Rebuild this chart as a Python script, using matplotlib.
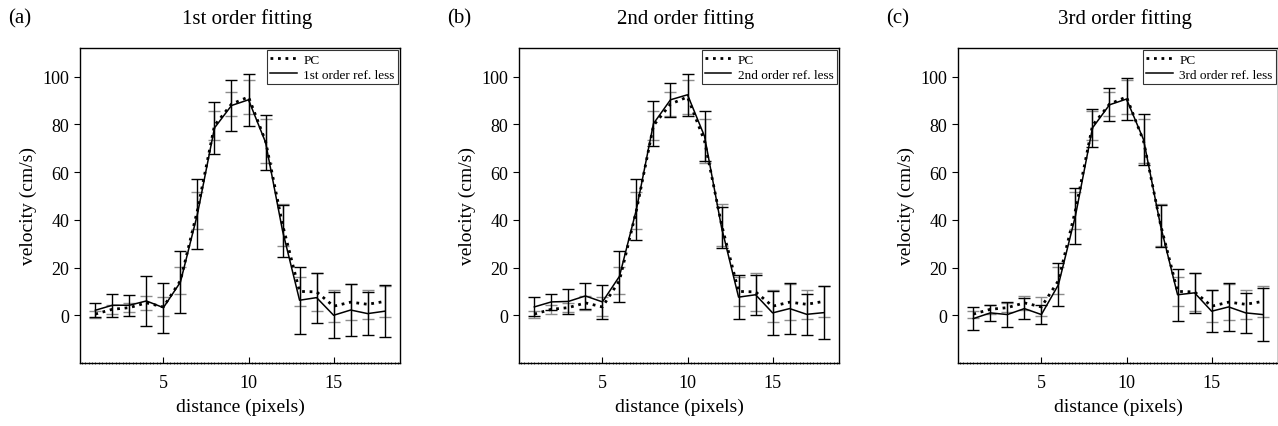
import matplotlib
matplotlib.use("Agg")
import matplotlib.pyplot as plt
import numpy as np

plt.rcParams['font.family'] = ['Liberation Serif', 'DejaVu Serif']

distance = list(range(1, 19))

pc = [0.5, 2.5, 3.2, 5.2, 3.5, 14.5, 44, 79.5, 88.5, 91.5, 73, 38, 10, 9.8, 3.8, 5.5, 4.6, 5.8]
pc_err = [1.5, 2.0, 2.0, 2.9, 4.0, 5.7, 7.8, 6.0, 5.1, 7.2, 9.1, 8.8, 6.0, 8.0, 6.8, 7.5, 6.0, 6.4]

ref1 = [2.1, 4.2, 4.2, 6.0, 3.2, 13.9, 42.4, 78.5, 87.9, 90.3, 72.5, 35.4, 6.3, 7.4, 0.0, 2.2, 0.7, 1.7]
ref1_err = [3.0, 4.8, 4.5, 10.5, 10.5, 13.0, 14.6, 11.0, 10.5, 11.0, 11.5, 11.0, 14.0, 10.5, 9.7, 11.0, 9.0, 11.0]

ref2 = [3.5, 5.6, 5.8, 8.1, 5.6, 16.3, 44.4, 80.3, 90.3, 92.4, 75.0, 36.8, 7.6, 8.6, 1.0, 2.8, 0.4, 1.1]
ref2_err = [4.0, 3.3, 5.2, 5.5, 7.0, 10.8, 12.8, 9.3, 7.2, 8.9, 10.5, 8.7, 9.2, 8.4, 9.2, 10.6, 8.7, 11.0]

ref3 = [-1.4, 1.0, 0.3, 2.8, 0.3, 12.8, 41.7, 78.5, 88.2, 90.6, 73.6, 37.5, 8.6, 9.4, 1.7, 3.5, 1.0, 0.3]
ref3_err = [4.7, 3.3, 5.1, 4.5, 4.0, 9.1, 11.8, 7.8, 6.9, 8.9, 10.7, 8.9, 11.0, 8.3, 8.7, 10.0, 8.3, 11.0]

panel_tags = ['(a)', '(b)', '(c)']
titles = ['1st order fitting', '2nd order fitting', '3rd order fitting']
legend_labels = ['1st order ref. less', '2nd order ref. less', '3rd order ref. less']
refs = [ref1, ref2, ref3]
ref_errs = [ref1_err, ref2_err, ref3_err]

W, H = 1278, 427
fig = plt.figure(figsize=(W / 100, H / 100), dpi=100)

lefts = [80, 519, 958]
ax_w = 320
ax_top = 49
ax_bot = 364

for i in range(3):
    ax = fig.add_axes([lefts[i] / W, 1 - ax_bot / H, ax_w / W, (ax_bot - ax_top) / H])
    # PC error bars (gray)
    ax.errorbar(distance, pc, yerr=pc_err, fmt='none', ecolor='#8c8c8c',
                elinewidth=1.0, capsize=4.5, capthick=1.0, zorder=2)
    # ref-less error bars (black)
    ax.errorbar(distance, refs[i], yerr=ref_errs[i], fmt='none', ecolor='black',
                elinewidth=1.0, capsize=4.5, capthick=1.0, zorder=3)
    ax.plot(distance, pc, color='black', linestyle=(0, (1, 1.7)), linewidth=2.0,
            label='PC', zorder=4)
    ax.plot(distance, refs[i], color='black', linestyle='-', linewidth=1.1,
            label=legend_labels[i], zorder=5)

    ax.set_xlim(0.1, 18.9)
    ax.set_ylim(-20, 112)
    ax.set_xticks([5, 10, 15])
    ax.set_yticks([0, 20, 40, 60, 80, 100])
    ax.set_xticks(np.arange(0.2, 18.9, 0.2), minor=True)
    ax.tick_params(axis='x', which='major', direction='in', length=4, width=0.8,
                   labelsize=13, pad=8)
    ax.tick_params(axis='x', which='minor', direction='inout', length=1.5, width=0.5)
    ax.tick_params(axis='y', which='major', direction='out', length=4, width=0.8,
                   labelsize=13)
    for sp in ax.spines.values():
        sp.set_linewidth(1.0)

    ax.set_xlabel('distance (pixels)', fontsize=14, labelpad=5)
    ax.set_ylabel('velocity (cm/s)', fontsize=14, labelpad=4)

    leg = ax.legend(loc='upper right', fontsize=9.5, frameon=True, fancybox=False,
                    borderaxespad=0.15, handlelength=2.0, borderpad=0.25,
                    labelspacing=0.25, handletextpad=0.5)
    leg.get_frame().set_edgecolor('black')
    leg.get_frame().set_linewidth(0.8)

    cx = (lefts[i] + ax_w / 2) / W
    fig.text(cx + 7 / W, 1 - 19 / H, titles[i], fontsize=15, ha='center', va='center')
    fig.text((lefts[i] - 72) / W, 1 - 19 / H, panel_tags[i], fontsize=15,
             ha='left', va='center')

fig.savefig('out.png', dpi=100)
